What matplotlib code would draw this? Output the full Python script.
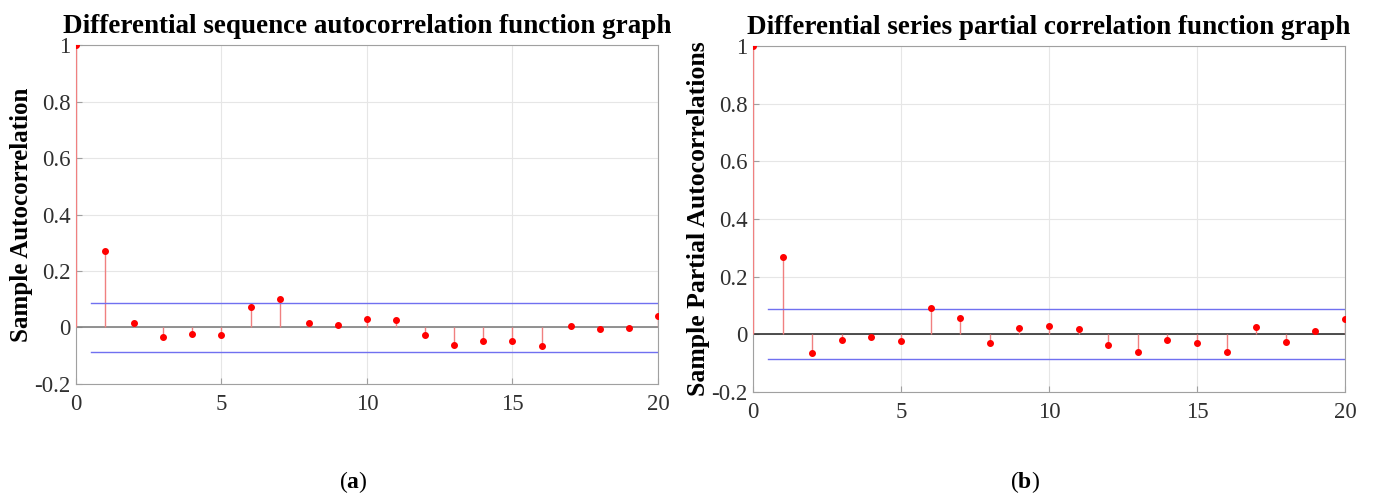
import numpy as np
import matplotlib
matplotlib.use('Agg')
import matplotlib.pyplot as plt

plt.rcParams['font.family'] = ['Liberation Serif', 'DejaVu Serif']
plt.rcParams['mathtext.fontset'] = 'custom'
plt.rcParams['mathtext.rm'] = 'Liberation Serif'
plt.rcParams['mathtext.bf'] = 'Liberation Serif:bold'

lags = np.arange(0, 21)
acf_vals = [1.0, 0.27, 0.015, -0.033, -0.023, -0.027, 0.073, 0.10, 0.015, 0.008,
            0.031, 0.028, -0.025, -0.063, -0.048, -0.047, -0.065, 0.007, -0.005,
            -0.003, 0.039]
pacf_vals = [1.0, 0.27, -0.065, -0.02, -0.01, -0.023, 0.093, 0.057, -0.03, 0.022,
             0.03, 0.017, -0.038, -0.062, -0.021, -0.03, -0.061, 0.026, -0.025,
             0.011, 0.052]
bound = 0.087

panels = [
    ('Differential sequence autocorrelation function graph', 'Sample Autocorrelation', acf_vals,
     r'($\mathbf{a}$)', 0.255, [0.0549, 0.2274, 0.4205, 0.682], '#808080', 18),
    ('Differential series partial correlation function graph', 'Sample Partial Autocorrelations', pacf_vals,
     r'($\mathbf{b}$)', 0.7406, [0.5441, 0.2113, 0.4277, 0.696], '#303030', 18.5),
]

fig = plt.figure(figsize=(13.84, 4.97), dpi=100)

for title, ylab, vals, tag, tx, pos, zc, ylsize in panels:
    ax = fig.add_axes(pos)
    ax.axhline(0, color=zc, lw=1.2, zorder=2)
    ax.vlines(lags, 0, vals, color='#f08080', lw=1.0, zorder=3)
    ax.plot(lags, vals, 'o', color='red', ms=4, zorder=4)
    ax.plot([0.5, 20], [bound, bound], color='#7070f0', lw=1.0, zorder=3)
    ax.plot([0.5, 20], [-bound, -bound], color='#7070f0', lw=1.0, zorder=3)
    ax.set_xlim(0, 20)
    ax.set_ylim(-0.2, 1.0)
    ax.set_xticks([0, 5, 10, 15, 20])
    ax.set_yticks([-0.2, 0, 0.2, 0.4, 0.6, 0.8, 1])
    ax.set_yticklabels(['-0.2', '0', '0.2', '0.4', '0.6', '0.8', '1'])
    ax.grid(True, color='#e6e6e6', lw=0.8)
    ax.set_axisbelow(True)
    ax.tick_params(direction='in', length=4, colors='#a0a0a0', labelcolor='#303030',
                   labelsize=16.5)
    ax.tick_params(axis='y', pad=4)
    ax.tick_params(axis='x', pad=7)
    for s in ax.spines.values():
        s.set_color('#a0a0a0')
    ax.set_title(title, fontsize=19.5, fontweight='bold', pad=8.5)
    ax.set_ylabel(ylab, fontsize=ylsize, fontweight='bold', labelpad=1)
    fig.text(tx, 0.03, tag, ha='center', va='center', fontsize=17)

fig.savefig('out.png', dpi=100)
